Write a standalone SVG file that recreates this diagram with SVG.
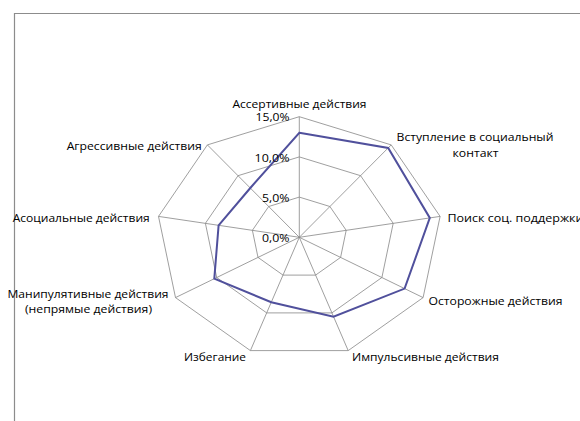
<svg xmlns="http://www.w3.org/2000/svg" width="580" height="421" viewBox="0 0 580 421">
<style>
.frame{fill:none;stroke:#8c8c8c;stroke-width:1.2}
.grid{fill:none;stroke:#868686;stroke-width:0.8}
.data{fill:none;stroke:#50509c;stroke-width:2;stroke-linejoin:miter}
text{font-family:"Open Sans","Liberation Sans",Arial,sans-serif;font-size:10.5px;fill:#000}
.tick{text-anchor:end}
.mid{text-anchor:middle}
</style>
<rect width="580" height="421" fill="#fff"/>
<path class="frame" d="M14.5,421 V13.5 H580"/>
<g id="grid">
<polygon class="grid" points="299.3,116.7 391.2,144.9 440.1,216.4 423.1,297.6 348.2,350.6 250.4,350.6 175.5,297.6 158.5,216.4 207.4,144.9"/>
<polygon class="grid" points="299.3,156.9 360.6,175.7 393.2,223.3 381.9,277.5 331.9,312.9 266.7,312.9 216.7,277.5 205.4,223.3 238.0,175.7"/>
<polygon class="grid" points="299.3,197.1 329.9,206.5 346.2,230.3 340.6,257.4 315.6,275.1 283.0,275.1 258.0,257.4 252.4,230.3 268.7,206.5"/>
<path class="grid" d="M299.3,237.3 L299.3,116.7 M299.3,237.3 L391.2,144.9 M299.3,237.3 L440.1,216.4 M299.3,237.3 L423.1,297.6 M299.3,237.3 L348.2,350.6 M299.3,237.3 L250.4,350.6 M299.3,237.3 L175.5,297.6 M299.3,237.3 L158.5,216.4 M299.3,237.3 L207.4,144.9"/>
</g>
<g id="connectors">
<polygon class="data" points="299.3,132.8 388.2,148.0 429.8,217.9 404.6,288.6 333.5,316.6 271.3,302.2 214.3,278.7 218.6,225.3 250.3,188.0"/>
</g>
<g id="ticks">
<text class="tick" x="289.5" y="121" textLength="34" lengthAdjust="spacingAndGlyphs">15,0%</text>
<text class="tick" x="289.5" y="161.5" textLength="35" lengthAdjust="spacingAndGlyphs">10,0%</text>
<text class="tick" x="289.5" y="202" textLength="27.5" lengthAdjust="spacingAndGlyphs">5,0%</text>
<text class="tick" x="289.5" y="242" textLength="27.5" lengthAdjust="spacingAndGlyphs">0,0%</text>
</g>
<g id="axis-assertive"><text class="mid" x="299.5" y="108" textLength="134" lengthAdjust="spacingAndGlyphs">Ассертивные действия</text></g>
<g id="axis-contact"><text class="mid" x="475" y="141" textLength="157" lengthAdjust="spacingAndGlyphs">Вступление в социальный</text><text class="mid" x="475.5" y="156.5" textLength="46" lengthAdjust="spacingAndGlyphs">контакт</text></g>
<g id="axis-support"><text x="447.5" y="221.5" textLength="136" lengthAdjust="spacingAndGlyphs">Поиск соц. поддержки</text></g>
<g id="axis-cautious"><text x="428.5" y="305" textLength="134" lengthAdjust="spacingAndGlyphs">Осторожные действия</text></g>
<g id="axis-impulsive"><text x="352" y="361" textLength="147" lengthAdjust="spacingAndGlyphs">Импульсивные действия</text></g>
<g id="axis-avoid"><text x="184" y="361" textLength="62" lengthAdjust="spacingAndGlyphs">Избегание</text></g>
<g id="axis-manip"><text x="7.5" y="298" textLength="161" lengthAdjust="spacingAndGlyphs">Манипулятивные действия</text><text x="25" y="313" textLength="127" lengthAdjust="spacingAndGlyphs">(непрямые действия)</text></g>
<g id="axis-asocial"><text x="12.7" y="222" textLength="137" lengthAdjust="spacingAndGlyphs">Асоциальные действия</text></g>
<g id="axis-aggr"><text x="66.7" y="150" textLength="135" lengthAdjust="spacingAndGlyphs">Агрессивные действия</text></g>
</svg>
